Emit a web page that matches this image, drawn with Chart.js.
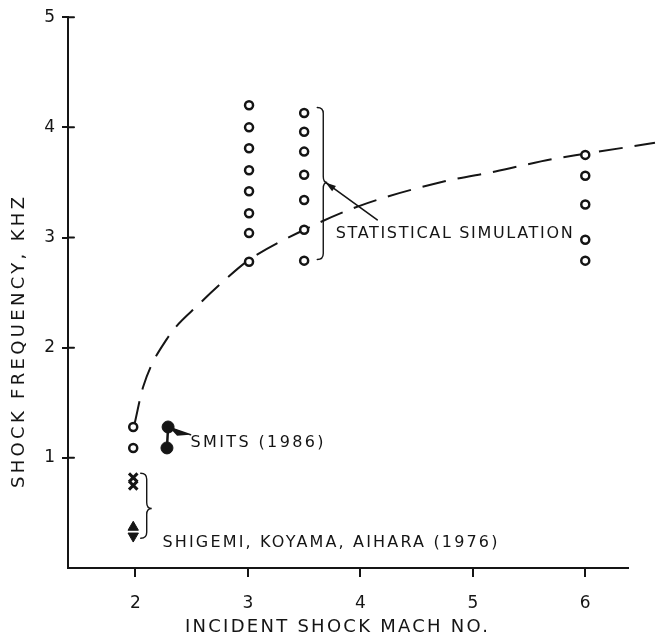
<!DOCTYPE html>
<html>
<head>
<meta charset="utf-8">
<script src="https://cdn.jsdelivr.net/npm/chart.js@4/dist/chart.umd.min.js"></script>
<style>
  html, body { margin: 0; padding: 0; background: #fff; }
  #wrap { width: 658px; height: 641px; }
</style>
</head>
<body>
<div id="wrap"><canvas id="chart"></canvas></div>
<script>
// values
const xTicks = [2, 3, 4, 5, 6];
const yTicks = [1, 2, 3, 4, 5];

// statistical simulation (open circles)
const sim2Mach = [1.98, 1.98];
const sim2Freq = [1.28, 1.09];
const sim3Mach = [3.01, 3.01, 3.01, 3.01, 3.01, 3.01, 3.01, 3.01];
const sim3Freq = [4.20, 4.00, 3.81, 3.61, 3.42, 3.22, 3.04, 2.78];
const sim35Mach = [3.50, 3.50, 3.50, 3.50, 3.50, 3.50, 3.50];
const sim35Freq = [4.13, 3.96, 3.78, 3.57, 3.34, 3.07, 2.79];
const sim6Mach = [6.0, 6.0, 6.0, 6.0, 6.0];
const sim6Freq = [3.75, 3.56, 3.30, 2.98, 2.79];

// Smits (1986), filled circles
const smitsMach = [2.29, 2.28];
const smitsFreq = [1.28, 1.09];

// Shigemi, Koyama, Aihara (1976)
const shigCrossMach = [1.98, 1.98];
const shigCrossFreq = [0.82, 0.75];
const shigUpMach = [1.98];
const shigUpFreq = [0.37];
const shigDownMach = [1.98];
const shigDownFreq = [0.29];

// dashed trend curve
const curveMach = [1.99, 2.07, 2.28, 2.58, 2.80, 3.0, 3.5, 4.0, 4.75, 5.2, 5.7, 6.0, 6.62];
const curveFreq = [1.30, 1.65, 2.08, 2.41, 2.62, 2.79, 3.07, 3.29, 3.51, 3.60, 3.71, 3.76, 3.86];

const ink = '#151515';
const font = "'DejaVu Sans', sans-serif";

function pts(xs, ys) {
    return xs.map((x, i) => ({ x: x, y: ys[i] }));
}

function fitText(ctx, text, x, y, width) {
    ctx.letterSpacing = '0px';
    const w = ctx.measureText(text).width;
    const sp = (width - w) / (text.length - 1);
    ctx.letterSpacing = sp + 'px';
    ctx.fillText(text, x, y);
    ctx.letterSpacing = '0px';
}

// right-pointing curly brace
function brace(ctx, x, yTop, yBot, yMid, tip) {
    const r = 6;
    ctx.beginPath();
    ctx.moveTo(x - r, yTop);
    ctx.quadraticCurveTo(x, yTop, x, yTop + r);
    ctx.lineTo(x, yMid - r);
    ctx.quadraticCurveTo(x, yMid, x + tip, yMid);
    ctx.quadraticCurveTo(x, yMid, x, yMid + r);
    ctx.lineTo(x, yBot - r);
    ctx.quadraticCurveTo(x, yBot, x - r, yBot);
    ctx.stroke();
}

const notes = {
    id: 'notes',
    afterDatasetsDraw(chart) {
        const ctx = chart.ctx;
        const xs = chart.scales.x, ys = chart.scales.y;
        const px = v => xs.getPixelForValue(v);
        const py = v => ys.getPixelForValue(v);
        ctx.save();
        ctx.strokeStyle = ink;
        ctx.fillStyle = ink;
        ctx.lineCap = 'round';

        // inner halves of the y ticks
        ctx.lineWidth = 2;
        yTicks.forEach(t => {
            ctx.beginPath();
            ctx.moveTo(xs.left, py(t));
            ctx.lineTo(xs.left + 6, py(t));
            ctx.stroke();
        });

        // braces
        ctx.lineWidth = 1.4;
        brace(ctx, px(3.67), py(4.18), py(2.80), py(3.50), 4);
        brace(ctx, px(2.10), py(0.86), py(0.27), py(0.54), 5);

        // arrow to the simulation brace
        ctx.lineWidth = 1.6;
        ctx.beginPath();
        ctx.moveTo(px(4.15), py(3.16));
        ctx.lineTo(px(3.69), py(3.50));
        ctx.stroke();
        const ax = px(3.69), ay = py(3.50);
        const ang = Math.atan2(py(3.16) - ay, px(4.15) - ax);
        ctx.beginPath();
        ctx.moveTo(ax, ay);
        ctx.lineTo(ax + 11 * Math.cos(ang - 0.3), ay + 11 * Math.sin(ang - 0.3));
        ctx.lineTo(ax + 11 * Math.cos(ang + 0.3), ay + 11 * Math.sin(ang + 0.3));
        ctx.closePath();
        ctx.fill();

        // Smits stem and pointer
        ctx.lineWidth = 2.5;
        ctx.beginPath();
        ctx.moveTo(px(smitsMach[0]), py(smitsFreq[0]));
        ctx.lineTo(px(smitsMach[1]), py(smitsFreq[1]));
        ctx.stroke();
        ctx.beginPath();
        ctx.moveTo(px(2.29), py(1.29));
        ctx.lineTo(px(2.38), py(1.25));
        ctx.lineTo(px(2.48), py(1.21));
        ctx.lineTo(px(2.37), py(1.20));
        ctx.closePath();
        ctx.fill();
        ctx.lineWidth = 1.5;
        ctx.beginPath();
        ctx.moveTo(px(2.29), py(1.28));
        ctx.lineTo(px(2.49), py(1.21));
        ctx.stroke();

        // labels
        ctx.textBaseline = 'middle';
        ctx.textAlign = 'left';
        ctx.font = '16px ' + font;
        fitText(ctx, 'STATISTICAL SIMULATION', px(3.78), py(3.03), 237);
        fitText(ctx, 'SMITS (1986)', px(2.49), py(1.135), 133);
        fitText(ctx, 'SHIGEMI, KOYAMA, AIHARA (1976)', px(2.24), py(0.23), 335);

        // axis titles
        ctx.font = '18px ' + font;
        fitText(ctx, 'INCIDENT SHOCK MACH NO.', 185, 627, 303);
        ctx.translate(19, 488);
        ctx.rotate(-Math.PI / 2);
        fitText(ctx, 'SHOCK FREQUENCY, KHZ', 0, 0, 291);
        ctx.restore();
    }
};

const openCircle = {
    pointStyle: 'circle',
    pointRadius: 4,
    pointBorderWidth: 2.5,
    pointBackgroundColor: '#fff',
    pointBorderColor: ink,
    showLine: false
};

new Chart(document.getElementById('chart'), {
    type: 'scatter',
    data: {
        datasets: [
            {
                label: 'trend',
                type: 'line',
                data: pts(curveMach, curveFreq),
                borderColor: ink,
                borderWidth: 2,
                borderDash: [24, 12],
                pointRadius: 0,
                cubicInterpolationMode: 'monotone',
                clip: false,
                order: 2
            },
            Object.assign({ label: 'sim 2', data: pts(sim2Mach, sim2Freq) }, openCircle),
            Object.assign({ label: 'sim 3', data: pts(sim3Mach, sim3Freq) }, openCircle),
            Object.assign({ label: 'sim 3.5', data: pts(sim35Mach, sim35Freq) }, openCircle),
            Object.assign({ label: 'sim 6', data: pts(sim6Mach, sim6Freq) }, openCircle),
            {
                label: 'Smits (1986)',
                data: pts(smitsMach, smitsFreq),
                pointStyle: 'circle',
                pointRadius: 6,
                pointBackgroundColor: ink,
                pointBorderColor: ink
            },
            {
                label: 'Shigemi x',
                data: pts(shigCrossMach, shigCrossFreq),
                pointStyle: 'crossRot',
                pointRadius: 6,
                pointBorderWidth: 3,
                pointBorderColor: ink
            },
            {
                label: 'Shigemi up',
                data: pts(shigUpMach, shigUpFreq),
                pointStyle: 'triangle',
                pointRadius: 6,
                pointBackgroundColor: ink,
                pointBorderColor: ink
            },
            {
                label: 'Shigemi down',
                data: pts(shigDownMach, shigDownFreq),
                pointStyle: 'triangle',
                rotation: 180,
                pointRadius: 6,
                pointBackgroundColor: ink,
                pointBorderColor: ink
            }
        ]
    },
    options: {
        responsive: true,
        maintainAspectRatio: false,
        animation: false,
        layout: { padding: { top: 12, right: 30, left: 0, bottom: 0 } },
        plugins: {
            legend: { display: false },
            tooltip: { enabled: false }
        },
        scales: {
            x: {
                type: 'linear',
                min: 1.40,
                max: 6.38,
                afterBuildTicks: s => { s.ticks = xTicks.map(v => ({ value: v })); },
                afterFit: s => { s.height = 73; },
                border: { display: true, color: ink, width: 2 },
                grid: { drawOnChartArea: false, drawTicks: true, tickLength: 9, color: ink, lineWidth: 2 },
                ticks: { color: ink, font: { family: font, size: 17 }, padding: 16 }
            },
            y: {
                type: 'linear',
                min: 0,
                max: 5,
                afterBuildTicks: s => { s.ticks = yTicks.map(v => ({ value: v })); },
                afterFit: s => { s.width = 68; },
                border: { display: true, color: ink, width: 2 },
                grid: { drawOnChartArea: false, drawTicks: true, tickLength: 6, color: ink, lineWidth: 2 },
                ticks: { color: ink, font: { family: font, size: 17 }, padding: 7 }
            }
        }
    },
    plugins: [notes]
});
</script>
</body>
</html>
